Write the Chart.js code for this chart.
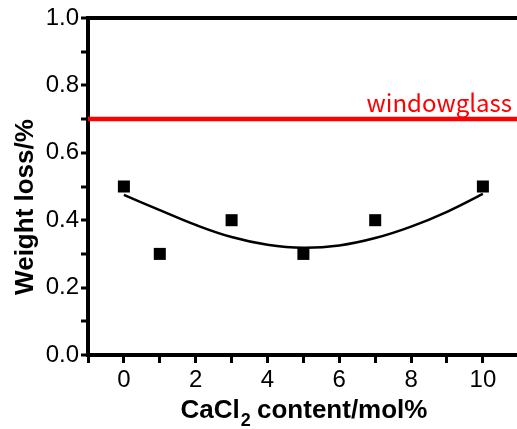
<!DOCTYPE html>
<html>
<head>
<meta charset="utf-8">
<script src="https://cdn.jsdelivr.net/npm/chart.js@4"></script>
<style>
  html, body { margin: 0; padding: 0; background: #fff; overflow: hidden; }
  canvas { display: block; }
</style>
</head>
<body>
<canvas id="c" width="517" height="429"></canvas>
<script>
// ---- data ----
const sampleX = [0, 1, 3, 5, 7, 10];                 // CaCl2 content / mol%
const sampleY = [0.5, 0.3, 0.4, 0.3, 0.4, 0.5];      // weight loss / %
const fitX = [0, 1, 2, 3, 4, 5, 6, 7, 8, 9, 10];
const fitY = [0.475, 0.43, 0.386, 0.35, 0.327, 0.318, 0.325, 0.347, 0.381, 0.425, 0.478];
const refX = [-1, 10.95];
const refY = [0.7, 0.7];
const refLabel = 'windowglass';
const xTickLabels = [0, 2, 4, 6, 8, 10];
const yTickLabels = [0.0, 0.2, 0.4, 0.6, 0.8, 1.0];
const xTitleMain = 'CaCl';
const xTitleSub = '2';
const xTitleRest = ' content/mol%';
const yTitle = 'Weight loss/%';

const toXY = (xs, ys) => xs.map((x, i) => ({ x: x, y: ys[i] }));

const textPlugin = {
  id: 'texts',
  afterDraw(chart) {
    const ctx = chart.ctx;
    const ys = chart.scales.y;
    const area = chart.chartArea;
    ctx.save();
    // reference label
    ctx.fillStyle = '#ff0000';
    ctx.font = '24px "Noto Sans CJK JP"';
    ctx.textAlign = 'right';
    ctx.textBaseline = 'alphabetic';
    ctx.fillText(refLabel, area.right - 5, ys.getPixelForValue(refY[0]) - 7);

    // x title with subscript
    ctx.fillStyle = '#000';
    ctx.textAlign = 'left';
    const mainFont = 'bold 26px "Liberation Sans"';
    const subFont = 'bold 18px "Liberation Sans"';
    ctx.font = mainFont;
    const w1 = ctx.measureText(xTitleMain).width;
    const w3 = ctx.measureText(xTitleRest).width;
    ctx.font = subFont;
    const w2 = ctx.measureText(xTitleSub).width;
    const total = w1 + w2 + w3;
    let x0 = 304 - total / 2;
    const base = 418;
    ctx.font = mainFont;
    ctx.fillText(xTitleMain, x0, base);
    ctx.font = subFont;
    ctx.fillText(xTitleSub, x0 + w1 + 1, base + 8);
    ctx.font = mainFont;
    ctx.fillText(xTitleRest, x0 + w1 + w2, base);

    // y title
    ctx.translate(26, 207);
    ctx.rotate(-Math.PI / 2);
    ctx.font = mainFont;
    ctx.textAlign = 'center';
    ctx.textBaseline = 'middle';
    ctx.fillText(yTitle, 0, 0);
    ctx.restore();
  }
};

new Chart(document.getElementById('c'), {
  type: 'scatter',
  data: {
    datasets: [
      {
        type: 'line',
        data: toXY(refX, refY),
        borderColor: '#ff0000',
        borderWidth: 4.5,
        pointRadius: 0,
        order: 3
      },
      {
        type: 'line',
        data: toXY(fitX, fitY),
        borderColor: '#000',
        borderWidth: 2.5,
        pointRadius: 0,
        tension: 0.4,
        order: 2
      },
      {
        data: toXY(sampleX, sampleY),
        pointStyle: 'rect',
        pointRadius: 8.5,
        pointHoverRadius: 8.5,
        backgroundColor: '#000',
        borderColor: '#000',
        borderWidth: 0,
        order: 1
      }
    ]
  },
  options: {
    responsive: false,
    animation: false,
    events: [],
    layout: { autoPadding: false, padding: { top: 18, right: 0, left: 0, bottom: 0 } },
    plugins: { legend: { display: false }, tooltip: { enabled: false } },
    scales: {
      x: {
        type: 'linear',
        min: -1,
        max: 10.95,
        afterFit: s => { s.height = 74; s.paddingLeft = 0; s.paddingRight = 0; },
        border: { display: true, color: '#000', width: 4 },
        grid: { drawOnChartArea: false, drawTicks: true, tickLength: 8, tickWidth: 3, tickColor: '#000' },
        ticks: {
          stepSize: 1,
          includeBounds: false,
          autoSkip: false,
          maxRotation: 0,
          padding: 3,
          color: '#000',
          font: { family: '"Liberation Sans"', size: 24 },
          callback: v => xTickLabels.includes(v) ? String(v) : ''
        }
      },
      y: {
        min: 0,
        max: 1,
        afterFit: s => { s.width = 88; },
        border: { display: true, color: '#000', width: 4 },
        grid: {
          drawOnChartArea: true,
          drawTicks: true,
          tickLength: 7,
          tickWidth: 3,
          tickColor: '#000',
          color: c => (c.tick && Math.abs(c.tick.value - 1) < 1e-9) ? '#000' : 'rgba(0,0,0,0)',
          lineWidth: c => (c.tick && Math.abs(c.tick.value - 1) < 1e-9) ? 4 : 0
        },
        ticks: {
          stepSize: 0.1,
          autoSkip: false,
          padding: 2,
          color: '#000',
          font: { family: '"Liberation Sans"', size: 24 },
          callback: v => yTickLabels.some(t => Math.abs(t - v) < 1e-9) ? v.toFixed(1) : ''
        }
      }
    }
  },
  plugins: [textPlugin]
});
</script>
</body>
</html>
